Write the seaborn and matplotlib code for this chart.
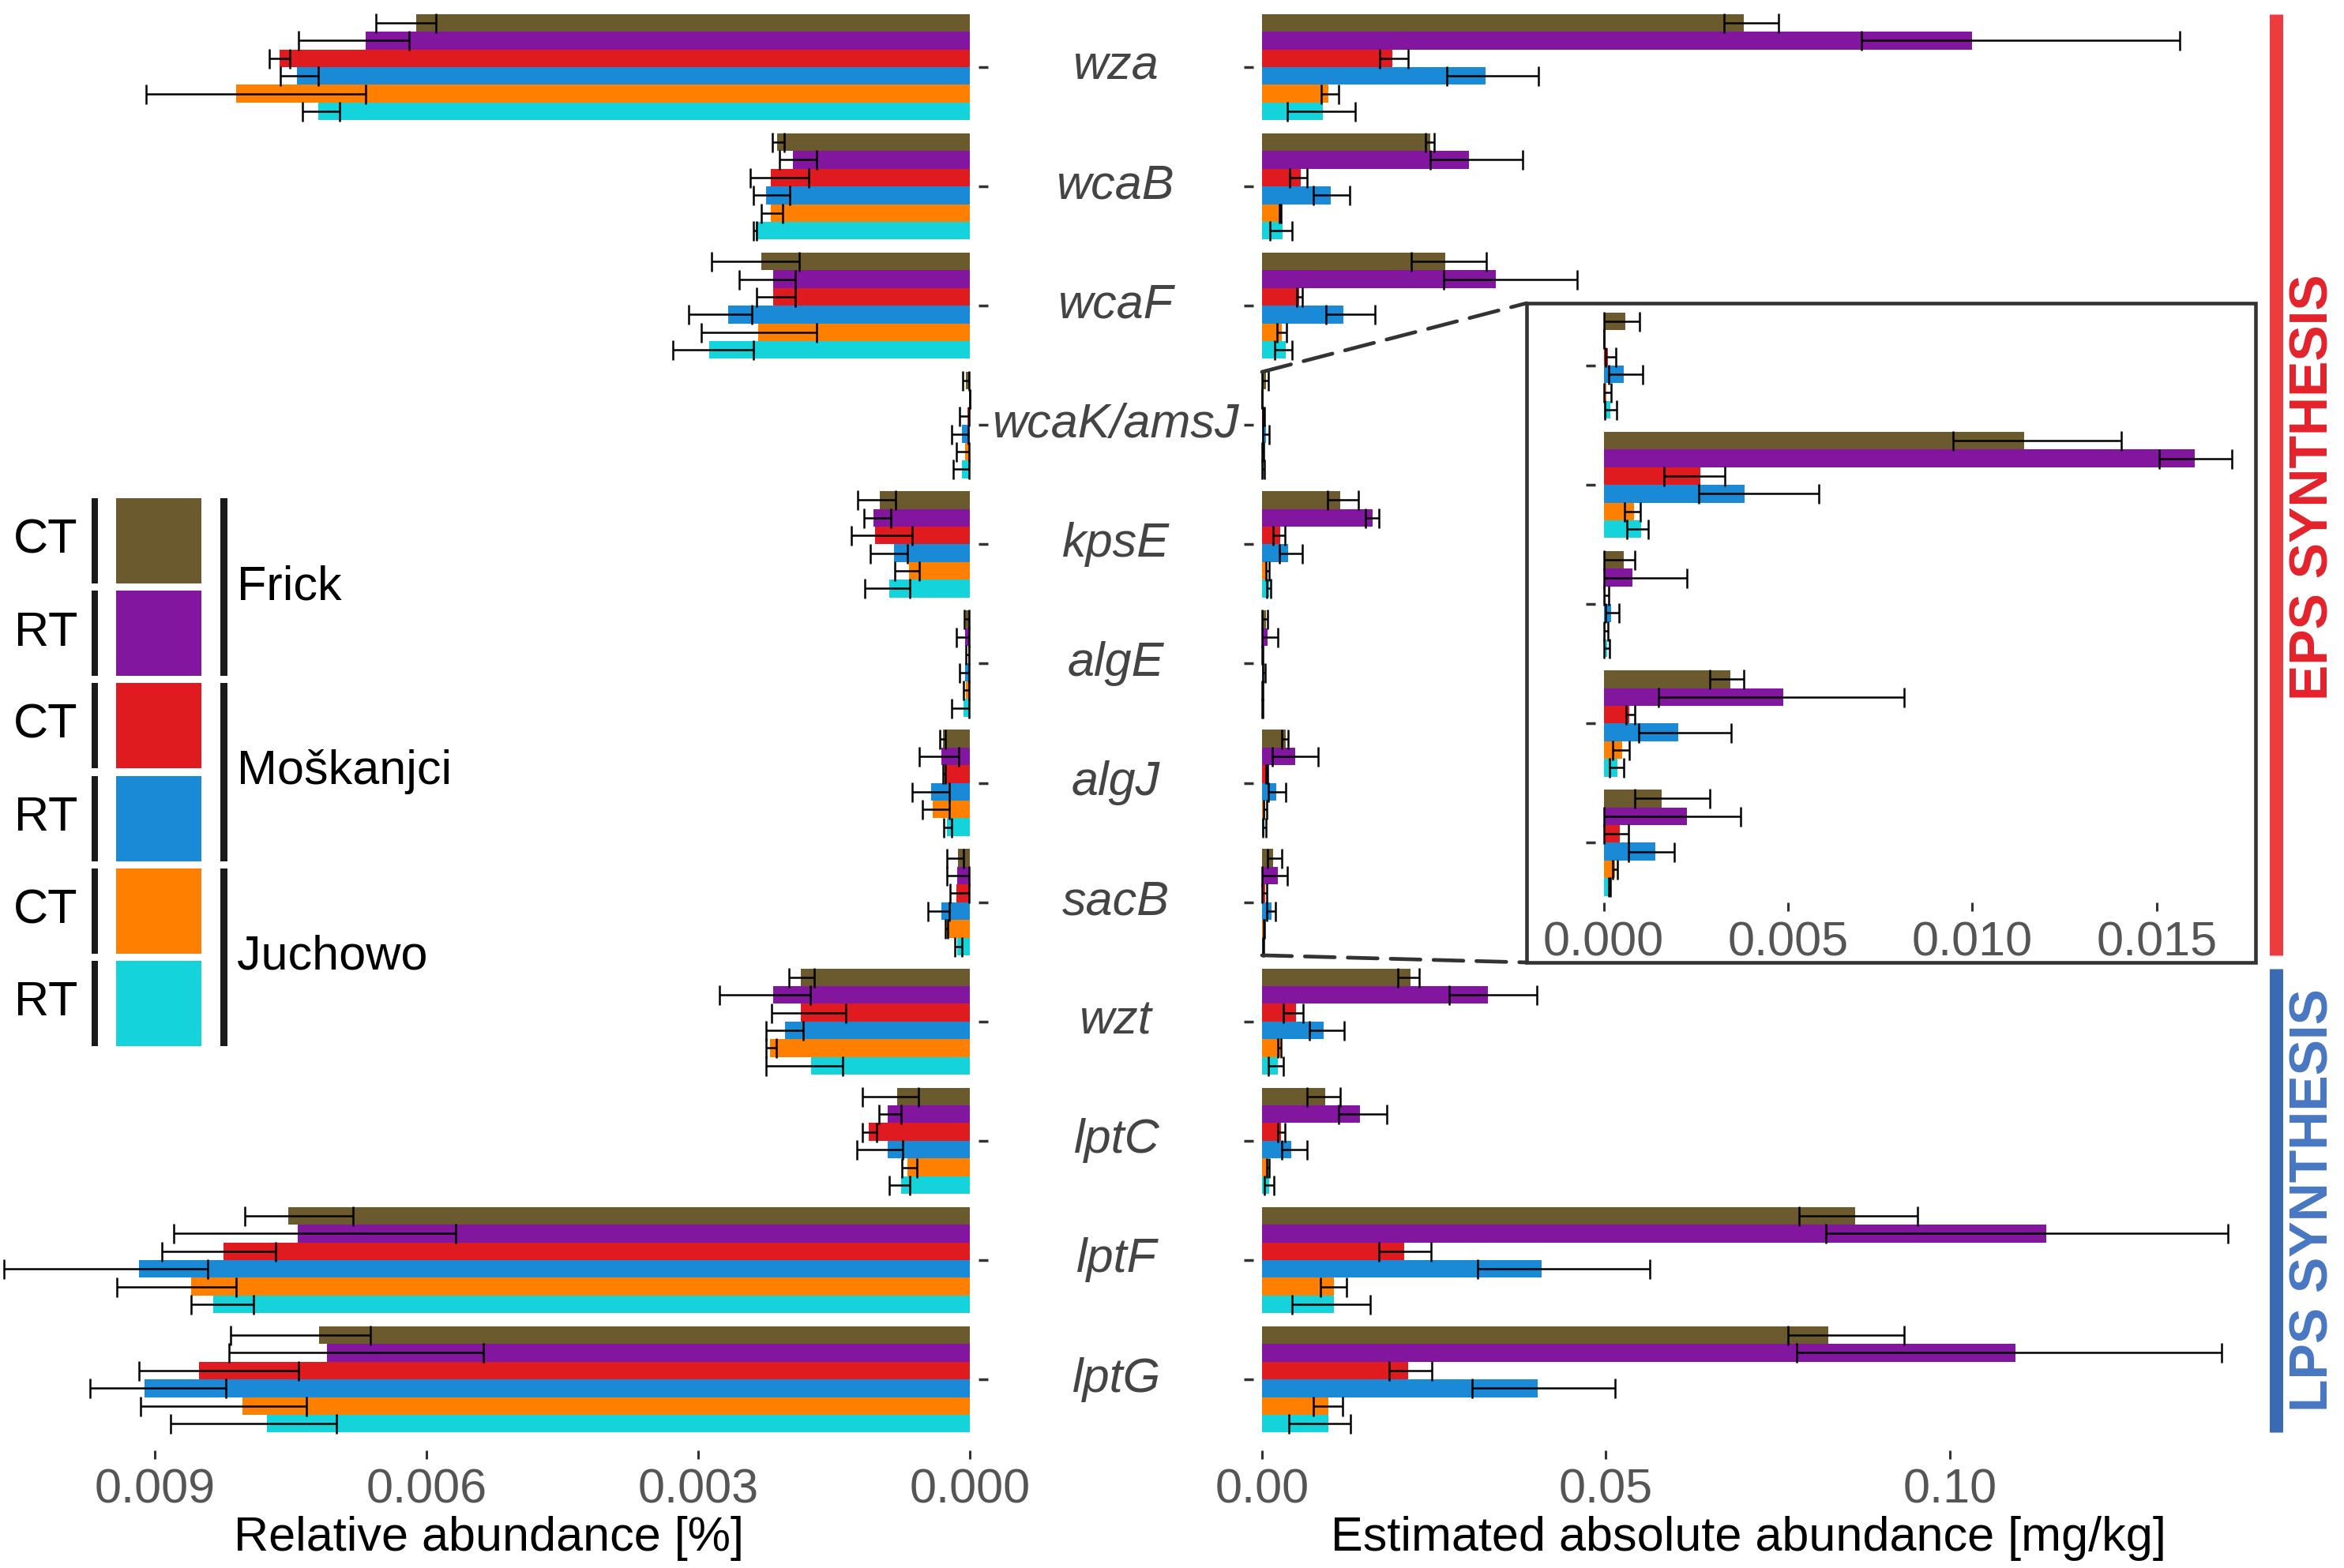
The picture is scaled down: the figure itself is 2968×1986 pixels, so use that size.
import numpy as np
import pandas as pd
import matplotlib
matplotlib.use("Agg")
import matplotlib.pyplot as plt
import seaborn as sns
from matplotlib.patches import Rectangle, ConnectionPatch
from matplotlib.lines import Line2D
from matplotlib.transforms import blended_transform_factory

# ---------------- data ----------------
genes = ["wza", "wcaB", "wcaF", "wcaK/amsJ", "kpsE", "algE", "algJ", "sacB",
         "wzt", "lptC", "lptF", "lptG"]
inset_genes = ["wcaK/amsJ", "kpsE", "algE", "algJ", "sacB"]
sites = ["Frick", "Moškanjci", "Juchowo"]
treatments = ["CT", "RT"]
groups = [f"{s} {t}" for s in sites for t in treatments]
colors = ["#6B5A2E", "#83169F", "#E01B1F", "#1B8AD6", "#FF8000", "#14D3DB"]

# relative abundance [%] (order of genes above)
rel_frick_ct = [0.00611, 0.00213, 0.00230, 0.00004, 0.00099, 0.00004, 0.00030, 0.00013, 0.00187, 0.00080, 0.00752, 0.00718]
rel_frick_rt = [0.00667, 0.00195, 0.00217, 0.000002, 0.00106, 0.00005, 0.00031, 0.00014, 0.00217, 0.00091, 0.00742, 0.00710]
rel_mosk_ct = [0.00762, 0.00220, 0.00217, 0.00003, 0.00105, 0.000015, 0.00028, 0.000145, 0.00187, 0.00112, 0.00824, 0.00851]
rel_mosk_rt = [0.00743, 0.00225, 0.00267, 0.00009, 0.00084, 0.00005, 0.00043, 0.00031, 0.00204, 0.00091, 0.00917, 0.00911]
rel_juch_ct = [0.00810, 0.00220, 0.00234, 0.00005, 0.00067, 0.00004, 0.00041, 0.00025, 0.00221, 0.00069, 0.00860, 0.00803]
rel_juch_rt = [0.00719, 0.00236, 0.00288, 0.00009, 0.00089, 0.00007, 0.00025, 0.00014, 0.00175, 0.00076, 0.00835, 0.00776]

rel_lo_frick_ct = [0.00589, 0.00205, 0.00188, 0.00001, 0.00082, 0.00001, 0.00027, 0.00007, 0.00172, 0.00057, 0.00681, 0.00662]
rel_hi_frick_ct = [0.00656, 0.00218, 0.00285, 0.00008, 0.00124, 0.00006, 0.00033, 0.00025, 0.00200, 0.00119, 0.00800, 0.00816]
rel_lo_frick_rt = [0.00619, 0.00169, 0.00193, 0.000002, 0.00087, 0.00001, 0.00012, 0.00001, 0.00176, 0.00076, 0.00568, 0.00537]
rel_hi_frick_rt = [0.00741, 0.00210, 0.00255, 0.000002, 0.00117, 0.00015, 0.00056, 0.00025, 0.00276, 0.00100, 0.00879, 0.00818]
rel_lo_mosk_ct = [0.00751, 0.00178, 0.00193, 0.00001, 0.00064, 0.00001, 0.00027, 0.00001, 0.00137, 0.00103, 0.00766, 0.00741]
rel_hi_mosk_ct = [0.00773, 0.00242, 0.00235, 0.00011, 0.00131, 0.00004, 0.00030, 0.00022, 0.00219, 0.00119, 0.00892, 0.00917]
rel_lo_mosk_rt = [0.00719, 0.00199, 0.00241, 0.00002, 0.00069, 0.00001, 0.00023, 0.00023, 0.00184, 0.00074, 0.00841, 0.00821]
rel_hi_mosk_rt = [0.00761, 0.00239, 0.00310, 0.00020, 0.00110, 0.00011, 0.00064, 0.00046, 0.00225, 0.00125, 0.01066, 0.00971]
rel_lo_juch_ct = [0.00667, 0.00207, 0.00169, 0.00001, 0.00056, 0.00001, 0.00023, 0.00024, 0.00214, 0.00058, 0.00810, 0.00732]
rel_hi_juch_ct = [0.00909, 0.00230, 0.00296, 0.00015, 0.00083, 0.00007, 0.00052, 0.00027, 0.00225, 0.00075, 0.00942, 0.00915]
rel_lo_juch_rt = [0.00696, 0.00235, 0.00239, 0.00001, 0.00066, 0.00001, 0.00020, 0.00009, 0.00140, 0.00066, 0.00791, 0.00699]
rel_hi_juch_rt = [0.00737, 0.00239, 0.00328, 0.00018, 0.00116, 0.00020, 0.00029, 0.00017, 0.00225, 0.00089, 0.00860, 0.00882]

# estimated absolute abundance [mg/kg]
abs_frick_ct = [0.0701, 0.0245, 0.0266, 0.00058, 0.01141, 0.00054, 0.00343, 0.00157, 0.0216, 0.0092, 0.0863, 0.0823]
abs_frick_rt = [0.1033, 0.0301, 0.0340, 0.00002, 0.01603, 0.00078, 0.00488, 0.00225, 0.0329, 0.0142, 0.1140, 0.1096]
abs_mosk_ct = [0.0190, 0.0056, 0.0054, 0.00012, 0.00262, 0.00006, 0.00070, 0.00043, 0.0049, 0.0028, 0.0207, 0.0212]
abs_mosk_rt = [0.0325, 0.0100, 0.0118, 0.00054, 0.00382, 0.00021, 0.00202, 0.00140, 0.0090, 0.0043, 0.0407, 0.0401]
abs_juch_ct = [0.0097, 0.0027, 0.0029, 0.00008, 0.00083, 0.00006, 0.00050, 0.00031, 0.0026, 0.0009, 0.0104, 0.0097]
abs_juch_rt = [0.0089, 0.0030, 0.0034, 0.00019, 0.00101, 0.00010, 0.00037, 0.00017, 0.0023, 0.0010, 0.0104, 0.0097]

abs_lo_frick_ct = [0.0672, 0.0238, 0.0217, 0.00000, 0.00948, 0.00002, 0.00289, 0.00085, 0.0198, 0.0066, 0.0781, 0.0765]
abs_hi_frick_ct = [0.0751, 0.0250, 0.0326, 0.00097, 0.01405, 0.00085, 0.00380, 0.00289, 0.0228, 0.0114, 0.0953, 0.0934]
abs_lo_frick_rt = [0.0872, 0.0245, 0.0264, 0.00002, 0.01506, 0.00002, 0.00149, 0.00002, 0.0272, 0.0111, 0.0820, 0.0777]
abs_hi_frick_rt = [0.1334, 0.0379, 0.0458, 0.00002, 0.01703, 0.00225, 0.00816, 0.00372, 0.0400, 0.0181, 0.1405, 0.1395]
abs_lo_mosk_ct = [0.0171, 0.0040, 0.0050, 0.00006, 0.00163, 0.00002, 0.00060, 0.00002, 0.0031, 0.0023, 0.0170, 0.0185]
abs_hi_mosk_ct = [0.0212, 0.0066, 0.0058, 0.00033, 0.00329, 0.00014, 0.00085, 0.00068, 0.0060, 0.0033, 0.0246, 0.0247]
abs_lo_mosk_rt = [0.0269, 0.0075, 0.0093, 0.00014, 0.00258, 0.00006, 0.00095, 0.00068, 0.0069, 0.0029, 0.0314, 0.0305]
abs_hi_mosk_rt = [0.0402, 0.0128, 0.0164, 0.00107, 0.00583, 0.00041, 0.00345, 0.00192, 0.0119, 0.0066, 0.0564, 0.0513]
abs_lo_juch_ct = [0.0086, 0.0025, 0.0022, 0.00002, 0.00056, 0.00002, 0.00025, 0.00025, 0.0023, 0.0007, 0.0085, 0.0075]
abs_hi_juch_ct = [0.0111, 0.0027, 0.0036, 0.00021, 0.00099, 0.00012, 0.00070, 0.00037, 0.0028, 0.0010, 0.0123, 0.0117]
abs_lo_juch_rt = [0.0037, 0.0012, 0.0018, 0.00004, 0.00064, 0.00002, 0.00016, 0.00014, 0.0009, 0.0004, 0.0044, 0.0039]
abs_hi_juch_rt = [0.0136, 0.0044, 0.0044, 0.00035, 0.00122, 0.00016, 0.00054, 0.00019, 0.0031, 0.0017, 0.0157, 0.0129]

rel_vals = [rel_frick_ct, rel_frick_rt, rel_mosk_ct, rel_mosk_rt, rel_juch_ct, rel_juch_rt]
rel_lo = [rel_lo_frick_ct, rel_lo_frick_rt, rel_lo_mosk_ct, rel_lo_mosk_rt, rel_lo_juch_ct, rel_lo_juch_rt]
rel_hi = [rel_hi_frick_ct, rel_hi_frick_rt, rel_hi_mosk_ct, rel_hi_mosk_rt, rel_hi_juch_ct, rel_hi_juch_rt]
abs_vals = [abs_frick_ct, abs_frick_rt, abs_mosk_ct, abs_mosk_rt, abs_juch_ct, abs_juch_rt]
abs_lo = [abs_lo_frick_ct, abs_lo_frick_rt, abs_lo_mosk_ct, abs_lo_mosk_rt, abs_lo_juch_ct, abs_lo_juch_rt]
abs_hi = [abs_hi_frick_ct, abs_hi_frick_rt, abs_hi_mosk_ct, abs_hi_mosk_rt, abs_hi_juch_ct, abs_hi_juch_rt]

left_ticks = [0.009, 0.006, 0.003, 0.000]
left_ticklabels = ["0.009", "0.006", "0.003", "0.000"]
right_ticks = [0.00, 0.05, 0.10]
right_ticklabels = ["0.00", "0.05", "0.10"]
inset_ticks = [0.000, 0.005, 0.010, 0.015]
inset_ticklabels = ["0.000", "0.005", "0.010", "0.015"]


def long_df(vals, lo, hi):
    rows = []
    for g, v, l, h in zip(groups, vals, lo, hi):
        for gene, a, b, c in zip(genes, v, l, h):
            rows.append({"gene": gene, "group": g, "value": a, "lo": b, "hi": c})
    return pd.DataFrame(rows)


df_rel = long_df(rel_vals, rel_lo, rel_hi)
df_abs = long_df(abs_vals, abs_lo, abs_hi)

# ---------------- style ----------------
sns.set_style("ticks")
plt.rcParams["font.family"] = ["Liberation Sans", "DejaVu Sans"]
plt.rcParams["axes.facecolor"] = "none"

W, H = 2968, 1986
fig = plt.figure(figsize=(W / 100, H / 100), dpi=100)
fig.patch.set_facecolor("white")

FS = 44
TICKC = "#333333"
LABC = "#555555"
BARW = 0.89
palette = dict(zip(groups, colors))


def px(x0, y0, x1, y1):
    return [x0 / W, 1 - y1 / H, (x1 - x0) / W, (y1 - y0) / H]


ax_l = fig.add_axes(px(0, 0, 1239, 1837))
ax_r = fig.add_axes(px(1587, 0, 2840, 1837))
ax_i = fig.add_axes(px(2020, 386, 2850, 1143))


def draw(ax, df, order, pad):
    sns.barplot(data=df[df.gene.isin(order)], x="value", y="gene", hue="group",
                order=order, hue_order=groups, palette=palette, orient="h",
                errorbar=None, width=BARW, dodge=True, legend=False,
                saturation=1, linewidth=0, ax=ax)
    sub = df.set_index(["gene", "group"])
    step = BARW / len(groups)
    for p in list(ax.patches):
        yc = p.get_y() + p.get_height() / 2
        gi = int(round(yc))
        k = int(round((yc - gi + BARW / 2 - step / 2) / step))
        row = sub.loc[(order[gi], groups[k])]
        lo, hi = row["lo"], row["hi"]
        ax.errorbar((lo + hi) / 2, yc, xerr=(hi - lo) / 2, fmt="none",
                    ecolor="black", elinewidth=1.8, capsize=9, capthick=1.8,
                    zorder=5)
    for s in ax.spines.values():
        s.set_visible(False)
    ax.set_ylabel("")
    ax.set_yticks(range(len(order)))
    ax.set_yticklabels([])
    ax.tick_params(axis="y", length=8.6, width=2.5, color=TICKC)
    ax.tick_params(axis="x", length=8, width=2.2, color=TICKC,
                   labelsize=FS, labelcolor=LABC, pad=pad)
    ax.grid(False)


draw(ax_l, df_rel, genes, 8)
draw(ax_r, df_abs, genes, 8)
draw(ax_i, df_abs, inset_genes, 9)

# left panel
ax_l.set_xlim(1228 / 114700, -11 / 114700)
ax_l.set_ylim(11.595, -0.5625)
ax_l.yaxis.set_ticks_position("right")
ax_l.set_xticks(left_ticks)
ax_l.set_xticklabels(left_ticklabels)
ax_l.set_xlabel("Relative abundance [%]", fontsize=FS, color="black", labelpad=2.5)

# right panel
ax_r.set_xlim(-11 / 8707, (2840 - 1598) / 8707)
ax_r.set_ylim(11.595, -0.5625)
ax_r.yaxis.set_ticks_position("left")
ax_r.set_xticks(right_ticks)
ax_r.set_xticklabels(right_ticklabels)
ax_r.set_xlabel("Estimated absolute abundance [mg/kg]", fontsize=FS,
                color="black", labelpad=2.5)

# inset
ax_i.set_xlim(-10.5 / 46690, (2850 - 2030.5) / 46690)
ax_i.set_ylim(4.50, -0.51)
ax_i.yaxis.set_ticks_position("left")
ax_i.set_xticks(inset_ticks)
ax_i.set_xticklabels(inset_ticklabels)
ax_i.set_xlabel("")

# inset frame
box = px(1933, 384, 2856, 1219)
fig.add_artist(Rectangle((box[0], box[1]), box[2], box[3], transform=fig.transFigure,
                         fill=False, edgecolor="#333333", linewidth=3.3, zorder=10))
# connector lines from the zoomed region to the inset frame
half = BARW / 2
for yv, yb in [(3 - half, box[1] + box[3]), (7 + half, box[1])]:
    con = ConnectionPatch(xyA=(0, yv), coordsA=ax_r.transData,
                          xyB=(box[0], yb), coordsB=fig.transFigure,
                          color="#333333", linewidth=3.4, linestyle=(0, (8, 3.5)),
                          zorder=10)
    fig.add_artist(con)

# gene labels between the panels
tr_gene = blended_transform_factory(fig.transFigure, ax_l.transData)
for i, g in enumerate(genes):
    ax_l.text(1413 / W, i, g, transform=tr_gene, ha="center", va="center",
              fontsize=FS, fontstyle="italic", color="#444444", clip_on=False)

# pathway brackets on the right
tr_r = blended_transform_factory(fig.transFigure, ax_r.transData)
ax_r.add_line(Line2D([2882 / W, 2882 / W], [0 - half, 7 + half], transform=tr_r,
                     color="#EE3B3D", linewidth=12.2, solid_capstyle="butt",
                     clip_on=False))
ax_r.add_line(Line2D([2882 / W, 2882 / W], [8 - half, 11 + half], transform=tr_r,
                     color="#3B69B3", linewidth=12.2, solid_capstyle="butt",
                     clip_on=False))
ax_r.text(2930 / W, 3.52, "EPS SYNTHESIS", transform=tr_r, rotation=90, ha="center",
          va="center", fontsize=49, fontweight="bold", color="#E4222B", clip_on=False)
ax_r.text(2930 / W, 9.5, "LPS SYNTHESIS", transform=tr_r, rotation=90, ha="center",
          va="center", fontsize=49, fontweight="bold", color="#4877C2", clip_on=False)

# custom legend
row_top, row_pitch, row_h = 631, 117.2, 108
for k, c in enumerate(colors):
    yt = row_top + k * row_pitch
    r = px(147, yt, 255, yt + row_h)
    fig.add_artist(Rectangle((r[0], r[1]), r[2], r[3], transform=fig.transFigure,
                             facecolor=c, edgecolor="none"))
    b = px(116, yt, 124, yt + row_h)
    fig.add_artist(Rectangle((b[0], b[1]), b[2], b[3], transform=fig.transFigure,
                             facecolor="#1a1a1a", edgecolor="none"))
    fig.text(58 / W, 1 - (yt + row_h / 2) / H, treatments[k % 2], ha="center",
             va="center", fontsize=FS, color="black")
for s, name in enumerate(sites):
    yt = row_top + 2 * s * row_pitch
    yb = yt + row_pitch + row_h
    b = px(279, yt, 288, yb)
    fig.add_artist(Rectangle((b[0], b[1]), b[2], b[3], transform=fig.transFigure,
                             facecolor="#1a1a1a", edgecolor="none"))
    fig.text(300 / W, 1 - (yt + yb) / 2 / H, name, ha="left", va="center",
             fontsize=FS, color="black")

fig.savefig("out.png", dpi=100, facecolor="white")
